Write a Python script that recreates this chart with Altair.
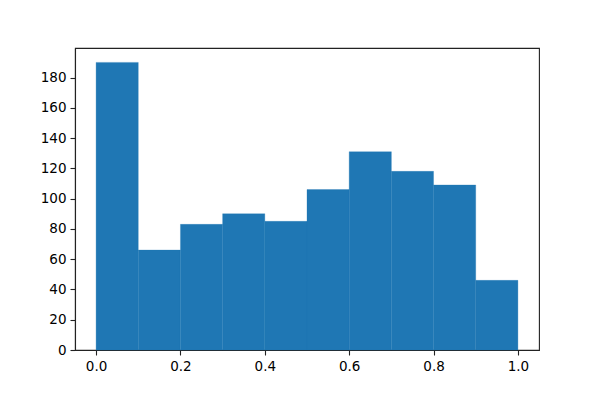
import altair as alt
import pandas as pd

bin_start = [0.0, 0.1, 0.2, 0.3, 0.4, 0.5, 0.6, 0.7, 0.8, 0.9]
bin_end = [0.1, 0.2, 0.3, 0.4, 0.5, 0.6, 0.7, 0.8, 0.9, 1.0]
counts = [190, 66, 83, 90, 85, 106, 131, 118, 109, 46]
x_ticks = [0.0, 0.2, 0.4, 0.6, 0.8, 1.0]
y_ticks = [0, 20, 40, 60, 80, 100, 120, 140, 160, 180]

df = pd.DataFrame({"start": bin_start, "end": bin_end, "count": counts, "base": [0] * len(counts)})

axis_common = dict(
    grid=False,
    domainColor="#222222",
    domainWidth=1.1,
    tickColor="#222222",
    tickWidth=1.1,
    tickSize=5,
    labelColor="black",
    labelFont="DejaVu Sans",
    labelFontSize=13.5,
    labelPadding=4,
    title=None,
)

chart = (
    alt.Chart(df)
    .mark_rect(color="#1f77b4", stroke="#1f77b4", strokeWidth=0.3)
    .encode(
        x=alt.X("start:Q", scale=alt.Scale(domain=[-0.05, 1.05], nice=False, zero=False),
                axis=alt.Axis(values=x_ticks, format=".1f", **axis_common)),
        x2="end:Q",
        y=alt.Y("count:Q", scale=alt.Scale(domain=[0, 199.5], nice=False),
                axis=alt.Axis(values=y_ticks, format="d", **axis_common)),
        y2="base:Q",
    )
    .properties(
        width=464,
        height=302,
        autosize="none",
        padding={"left": 67, "top": 40, "right": 53, "bottom": 42},
    )
    .configure_view(stroke="#222222", strokeWidth=1.1)
)

chart.save("out.html", embed_options={"renderer": "svg", "actions": False})
